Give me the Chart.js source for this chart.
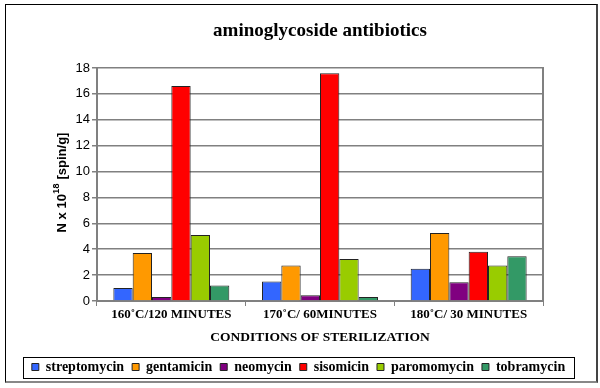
<!DOCTYPE html>
<html><head><meta charset="utf-8">
<script src="https://cdn.jsdelivr.net/npm/chart.js@4.4.1/dist/chart.umd.min.js"></script>
<style>
html,body{margin:0;padding:0;background:#fff}
#wrap{position:relative;width:600px;height:388px}
#frame{position:absolute;left:5px;top:4px;width:590px;height:376px;border:1px solid #000;border-right:2px solid #444;border-bottom:2px solid #888;pointer-events:none}
canvas{position:absolute;left:0;top:0}
</style></head><body>
<div id="wrap"><canvas id="c" width="600" height="388"></canvas><div id="frame"></div></div>
<script>
const chartTitle = 'aminoglycoside antibiotics';
const categories = ['160˚C/120 MINUTES', '170˚C/ 60MINUTES', '180˚C/ 30 MINUTES'];
const seriesNames = ['streptomycin', 'gentamicin', 'neomycin', 'sisomicin', 'paromomycin', 'tobramycin'];
const streptomycin = [1.0, 1.5, 2.5];
const gentamicin   = [3.7, 2.75, 5.25];
const neomycin     = [0.3, 0.45, 1.45];
const sisomicin    = [16.6, 17.6, 3.8];
const paromomycin  = [5.1, 3.25, 2.75];
const tobramycin   = [1.2, 0.3, 3.45];
const yTicks = [0, 2, 4, 6, 8, 10, 12, 14, 16, 18];
const xTitle = 'CONDITIONS OF STERILIZATION';
const yTitleParts = ['N x 10', '18', ' [spin/g]'];

const seriesValues = [streptomycin, gentamicin, neomycin, sisomicin, paromomycin, tobramycin];
const colors = ['#3366FF', '#FF9900', '#800080', '#FF0000', '#99CC00', '#339966'];

const serif = '"Liberation Serif", "Times New Roman", serif';
const sans = '"Liberation Sans", Arial, sans-serif';

const extras = {
  id: 'extras',
  afterDraw(chart) {
    const ctx = chart.ctx, a = chart.chartArea;
    ctx.save();
    // right border of plot area
    ctx.strokeStyle = '#808080';
    ctx.lineWidth = 2;
    ctx.beginPath();
    ctx.moveTo(a.right, a.top - 1);
    ctx.lineTo(a.right, a.bottom);
    ctx.stroke();
    // title
    ctx.fillStyle = '#000';
    ctx.font = 'bold 19px ' + serif;
    ctx.textAlign = 'center';
    ctx.textBaseline = 'middle';
    ctx.fillText(chartTitle, (a.left + a.right) / 2, 31);
    // y axis title with real superscript
    const mainFont = 'bold 13px ' + sans, supFont = 'bold 9px ' + sans;
    ctx.font = mainFont; const w0 = ctx.measureText(yTitleParts[0]).width;
    const w2 = ctx.measureText(yTitleParts[2]).width;
    ctx.font = supFont; const w1 = ctx.measureText(yTitleParts[1]).width + 1;
    const total = w0 + w1 + w2;
    ctx.translate(62, (a.top + a.bottom) / 2 - 2);
    ctx.rotate(-Math.PI / 2);
    ctx.textAlign = 'left';
    ctx.textBaseline = 'middle';
    let x = -total / 2;
    ctx.font = mainFont; ctx.fillText(yTitleParts[0], x, 0); x += w0;
    ctx.font = supFont; ctx.fillText(yTitleParts[1], x + 0.5, -5); x += w1;
    ctx.font = mainFont; ctx.fillText(yTitleParts[2], x, 0);
    ctx.setTransform(1, 0, 0, 1, 0, 0);
    // legend frame
    const lg = chart.legend;
    if (lg && lg.legendHitBoxes && lg.legendHitBoxes.length) {
      let x0 = Infinity, x1 = -Infinity, y0 = Infinity, y1 = -Infinity;
      lg.legendHitBoxes.forEach(h => {
        x0 = Math.min(x0, h.left); x1 = Math.max(x1, h.left + h.width);
        y0 = Math.min(y0, h.top); y1 = Math.max(y1, h.top + h.height);
      });
      const cy = (y0 + y1) / 2;
      ctx.strokeStyle = '#000';
      ctx.lineWidth = 1;
      ctx.strokeRect(Math.round(x0 - 9) + 0.5, Math.round(cy - 10.5) + 0.5, Math.round(x1 - x0 + 18), 21);
    }
    ctx.restore();
  }
};

new Chart(document.getElementById('c'), {
  type: 'bar',
  data: {
    labels: categories,
    datasets: seriesNames.map((n, i) => ({
      label: n,
      data: seriesValues[i],
      backgroundColor: colors[i],
      borderColor: '#222',
      borderWidth: 1,
      categoryPercentage: 0.78,
      barPercentage: 1.0
    }))
  },
  options: {
    responsive: false,
    devicePixelRatio: 1,
    animation: false,
    layout: { padding: { top: 68, left: 0, right: 3, bottom: 4 } },
    plugins: {
      title: { display: false },
      tooltip: { enabled: false },
      legend: {
        position: 'bottom',
        labels: {
          font: { family: serif, size: 14, weight: 'bold' },
          color: '#000',
          boxWidth: 7,
          boxHeight: 7,
          padding: 8
        }
      }
    },
    scales: {
      x: {
        grid: { display: true, drawOnChartArea: false, drawTicks: true, tickLength: 5, color: '#808080', offset: true },
        border: { color: '#808080', width: 2 },
        ticks: { font: { family: serif, size: 13, weight: 'bold' }, color: '#000', padding: 1, maxRotation: 0 },
        title: { display: true, text: xTitle, font: { family: serif, size: 13.5, weight: 'bold' }, color: '#000', padding: { top: 4, bottom: 6 } },
        afterFit(s) { s.height = 51; }
      },
      y: {
        min: 0, max: 18,
        afterBuildTicks(s) { s.ticks = yTicks.map(v => ({ value: v })); },
        ticks: { font: { family: sans, size: 13 }, color: '#000', padding: 2 },
        grid: { color: '#808080', lineWidth: 1.5, tickLength: 5, tickColor: '#808080' },
        border: { color: '#808080', width: 2 },
        title: { display: false },
        afterFit(s) { s.width = 97; }
      },
      yR: {
        position: 'right',
        display: true,
        grid: { display: false },
        border: { display: false },
        ticks: { display: false },
        afterFit(s) { s.width = 54; }
      }
    }
  },
  plugins: [extras]
});
</script>
</body></html>
